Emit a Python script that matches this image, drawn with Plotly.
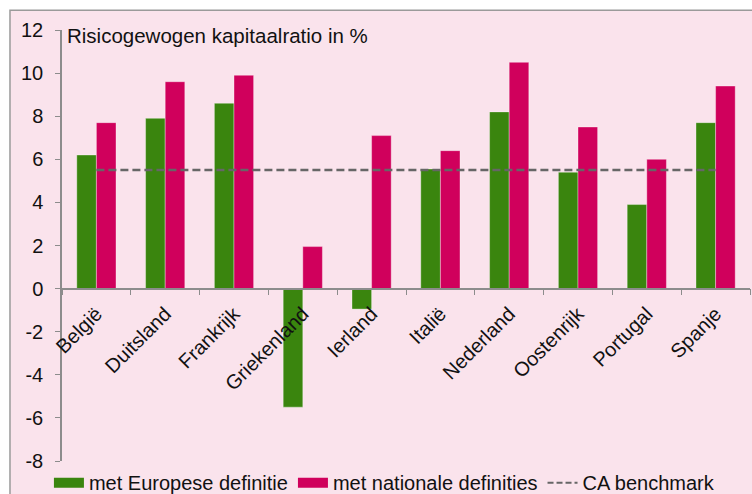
import plotly.graph_objects as go

countries = ["België", "Duitsland", "Frankrijk", "Griekenland", "Ierland",
             "Italië", "Nederland", "Oostenrijk", "Portugal", "Spanje"]
europese = [6.2, 7.9, 8.6, -5.5, -0.95, 5.55, 8.2, 5.4, 3.9, 7.7]
nationale = [7.7, 9.6, 9.9, 1.95, 7.1, 6.4, 10.5, 7.5, 6.0, 9.4]
benchmark = [5.5] * len(countries)
y_ticks = [-8, -6, -4, -2, 0, 2, 4, 6, 8, 10, 12]
y_ticktext = [str(v) for v in y_ticks]

GREEN = "#3A850E"
RED = "#D0005C"
PINK_BG = "#FAE3EC"
FONT = "Liberation Sans, Arial, sans-serif"
FS = 20

fig = go.Figure()
fig.add_trace(go.Bar(name="met Europese definitie", x=countries, y=europese,
                     legendgroup="eu", showlegend=False,
                     marker=dict(color=GREEN, line=dict(color="rgba(255,255,255,0.35)", width=1))))
fig.add_trace(go.Bar(name="met nationale definities", x=countries, y=nationale,
                     legendgroup="nat", showlegend=False,
                     marker=dict(color=RED, line=dict(color="rgba(255,255,255,0.35)", width=1))))
fig.add_trace(go.Scatter(name="CA benchmark", x=countries, y=benchmark, mode="lines",
                         line=dict(color="#666666", width=2.5, dash="8px,4px"), showlegend=False))
# legend swatches (rectangular, like the original)
fig.add_trace(go.Scatter(name="met Europese definitie", x=[None], y=[None], mode="lines",
                         legendgroup="eu", line=dict(color=GREEN, width=10)))
fig.add_trace(go.Scatter(name="met nationale definities", x=[None], y=[None], mode="lines",
                         legendgroup="nat", line=dict(color=RED, width=10)))
fig.add_trace(go.Scatter(name="CA benchmark", x=[None], y=[None], mode="lines",
                         line=dict(color="#666666", width=2, dash="6px,3px")))

fig.add_shape(type="rect", xref="paper", yref="paper", x0=-0.0756, x1=1.02, y0=-0.09, y1=1.046,
              fillcolor=PINK_BG, line=dict(color="#9a9a9a", width=1.5), layer="below")

fig.add_annotation(text="Risicogewogen kapitaalratio in %", xref="paper", yref="paper",
                   x=0.005, y=0.988, xanchor="left", yanchor="middle", showarrow=False,
                   font=dict(family=FONT, size=20.5, color="#111111"))

fig.update_layout(
    width=752, height=494,
    template="none",
    paper_bgcolor="white",
    plot_bgcolor="rgba(0,0,0,0)",
    margin=dict(l=62, r=2, t=30, b=33, autoexpand=False),
    font=dict(family=FONT, size=FS, color="#111111"),
    barmode="group", bargap=0.43, bargroupgap=0,
    showlegend=True,
    legend=dict(orientation="h", x=-0.019, xanchor="left", y=-0.005, yanchor="top",
                bgcolor="rgba(0,0,0,0)", font=dict(family=FONT, size=FS),
                itemwidth=30, tracegroupgap=0),
    xaxis=dict(anchor="free", position=0.4, showline=True, linecolor="#8c8c8c", linewidth=1.5,
               ticks="outside", ticklen=6, tickcolor="#8c8c8c", tickson="boundaries",
               tickangle=-45, showgrid=False, automargin=False, zeroline=False,
               ticklabelstandoff=5),
    yaxis=dict(range=[-8, 12], tickvals=y_ticks, ticktext=y_ticktext, showline=True,
               linecolor="#8c8c8c", linewidth=1.5, ticks="outside", ticklen=5,
               tickcolor="#8c8c8c", showgrid=False, zeroline=False, automargin=False,
               ticklabelstandoff=8),
)

fig.write_html("out.html", config={"displayModeBar": False},
               post_script="document.body.style.margin='0';document.body.style.overflow='hidden';")
